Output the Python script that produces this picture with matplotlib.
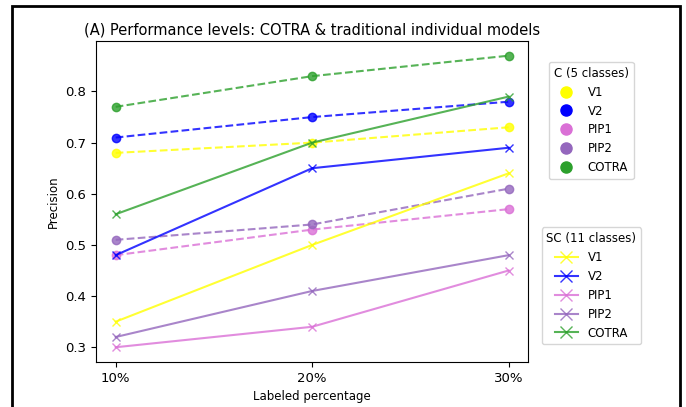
import matplotlib

matplotlib.use("Agg")
import matplotlib.pyplot as plt
from matplotlib.lines import Line2D
from matplotlib.patches import Rectangle

# Labeled percentage on the x axis
labeled_pct = [10, 20, 30]
x_labels = ["10%", "20%", "30%"]

models = ["V1", "V2", "PIP1", "PIP2", "COTRA"]
colors = ["yellow", "blue", "orchid", "tab:purple", "tab:green"]

# C (5 classes): dashed lines with circle markers
c_v1 = [0.68, 0.70, 0.73]
c_v2 = [0.71, 0.75, 0.78]
c_pip1 = [0.48, 0.53, 0.57]
c_pip2 = [0.51, 0.54, 0.61]
c_cotra = [0.77, 0.83, 0.87]

# SC (11 classes): solid lines with x markers
sc_v1 = [0.35, 0.50, 0.64]
sc_v2 = [0.48, 0.65, 0.69]
sc_pip1 = [0.30, 0.34, 0.45]
sc_pip2 = [0.32, 0.41, 0.48]
sc_cotra = [0.56, 0.70, 0.79]

c_series = [c_v1, c_v2, c_pip1, c_pip2, c_cotra]
sc_series = [sc_v1, sc_v2, sc_pip1, sc_pip2, sc_cotra]

fig = plt.figure(figsize=(6.86, 4.07), dpi=100)
ax = fig.add_axes([0.140, 0.111, 0.630, 0.788])

for vals, col in zip(c_series, colors):
    ax.plot(labeled_pct, vals, linestyle="--", marker="o", color=col,
            markersize=6, linewidth=1.5, alpha=0.8)

for vals, col in zip(sc_series, colors):
    ax.plot(labeled_pct, vals, linestyle="-", marker="x", color=col,
            markersize=6, linewidth=1.5, alpha=0.8)

ax.set_xticks(labeled_pct)
ax.set_xticklabels(x_labels)
ax.tick_params(labelsize=9.5)
ax.set_xlabel("Labeled percentage", fontsize=8.5)
ax.set_ylabel("Precision", fontsize=8.5)
ax.set_title("(A) Performance levels: COTRA & traditional individual models",
             fontsize=10.5, pad=5)

c_handles = [Line2D([], [], linestyle="none", marker="o", color=col, markersize=8)
             for col in colors]
sc_handles = [Line2D([], [], linestyle="-", marker="x", color=col, markersize=8, alpha=0.8)
              for col in colors]

fig.legend(c_handles, models, title="C (5 classes)",
           loc="upper center", bbox_to_anchor=(0.862, 0.862),
           fontsize=8.5, title_fontsize=8.5)
fig.legend(sc_handles, models, title="SC (11 classes)",
           loc="upper center", bbox_to_anchor=(0.862, 0.456),
           fontsize=8.5, title_fontsize=8.5)

# black frame of the screenshot
fig.patches.append(Rectangle((12 / 686, -0.05), 668 / 686, 1 - 6 / 407 + 0.05,
                             transform=fig.transFigure, fill=False,
                             edgecolor="black", linewidth=2))

fig.savefig("out.png", dpi=100)
